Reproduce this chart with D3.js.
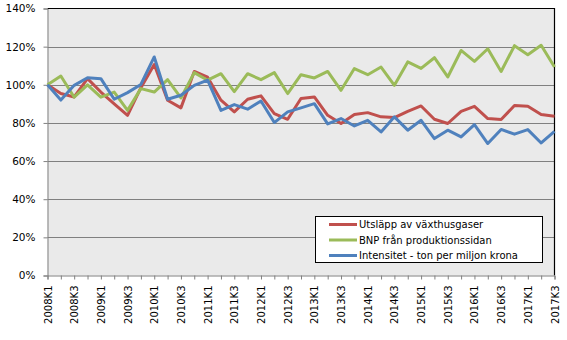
<!DOCTYPE html>
<html><head><meta charset="utf-8">
<script src="https://cdn.jsdelivr.net/npm/d3@7"></script>
<style>
body{margin:0;background:#fff;}
text{font-family:"DejaVu Sans",Verdana,sans-serif;font-size:10px;fill:#000;}
</style></head>
<body><svg id="c" width="567" height="340"></svg>
<script>
const years = [2008,2009,2010,2011,2012,2013,2014,2015,2016,2017];
const quarters = [];
years.forEach(y => { for (let q = 1; q <= 4; q++) { if (y === 2017 && q > 3) break; quarters.push(y + "K" + q); } });

const seriesNames = ["Utsläpp av växthusgaser", "BNP från produktionssidan", "Intensitet - ton per miljon krona"];
const utslapp = [100,95.4,93.6,103.2,96.2,90,84,98.5,110.6,91.9,87.9,107,104,91.9,85.8,92.4,94.2,84.9,81.9,92.8,93.6,84,79.7,84.4,85.4,83.2,82.8,86.1,88.9,81.9,79.7,86.1,88.7,82.3,81.8,89.1,88.7,84.4,83.5];
const bnp = [100,104.6,93.5,100,93.5,96.2,86.6,98,96.2,102.7,93.1,106.4,102.4,105.8,96.4,105.8,102.7,106.4,95.4,105.3,103.6,107,97.1,108.5,105.3,109.3,99.7,112,108.6,114.2,104.1,118,112.3,118.9,107,120.5,115.8,120.7,109.3];
const intensitet = [100,92,99.7,103.7,103.2,92.4,95.9,100.2,114.6,92.4,94.5,99.7,102.4,86.6,89.6,87.2,91.5,80.2,85.8,87.9,90.1,79.5,82.3,78.4,81.4,75.3,83.2,76.2,81.4,71.8,76.2,72.7,79.1,69.2,76.6,74.1,76.5,69.5,75.6];
const yTicks = [0,20,40,60,80,100,120,140];
const colors = ["#C0504D","#9BBB59","#4F81BD"];

const svg = d3.select("#c");
const L = 47.5, R = 554.5, T = 8.5, B = 275.5;
const x = d3.scalePoint().domain(quarters).range([L, R]);
const y = d3.scaleLinear().domain([0,140]).range([B, T]);

svg.append("rect").attr("x", L).attr("y", T).attr("width", R-L).attr("height", B-T).attr("fill", "#EAEAEA");

// gridlines
svg.append("g").selectAll("line").data(yTicks.filter(t => t > 0 && t < 140)).join("line")
  .attr("x1", L).attr("x2", R).attr("y1", d => Math.round(y(d)) + 0.5).attr("y2", d => Math.round(y(d)) + 0.5)
  .attr("stroke", "#808080").attr("stroke-width", 1);

// border top/right
svg.append("path").attr("d", `M${L},${T}H${R}V${B}`).attr("fill","none").attr("stroke","#000").attr("stroke-width",1.2);

// y axis
const yAxis = d3.axisLeft(y).tickValues(yTicks).tickSize(4).tickPadding(8).tickFormat(d => d + "%");
const gy = svg.append("g").attr("transform", `translate(${L},0)`).call(yAxis);
gy.select(".domain").attr("stroke", "#808080");
gy.selectAll(".tick line").attr("stroke", "#808080");
gy.selectAll("text").style("font-size","10.5px").attr("fill","#000");

// x axis
const xAxis = d3.axisBottom(x).tickSize(4).tickPadding(6).tickFormat((d,i) => i % 2 === 0 ? d : "");
const gx = svg.append("g").attr("transform", `translate(0,${B})`).call(xAxis);
gx.select(".domain").attr("stroke", "#808080");
gx.selectAll(".tick line").attr("stroke", "#808080");
gx.selectAll(".tick text").attr("transform", "rotate(-90)").attr("x", -10).attr("y", 0).attr("dy", "0.35em")
  .attr("text-anchor", "end").attr("fill","#000");

// lines
const data = [utslapp, bnp, intensitet];
const line = d3.line().x((d,i) => x(quarters[i])).y(d => y(d));
svg.append("g").selectAll("path").data(data).join("path")
  .attr("d", line).attr("fill", "none").attr("stroke", (d,i) => colors[i])
  .attr("stroke-width", 3).attr("stroke-linejoin", "round");

// legend
const lg = svg.append("g");
lg.append("rect").attr("x", 315.5).attr("y", 216.5).attr("width", 227).attr("height", 46)
  .attr("fill", "#fff").attr("stroke", "#000").attr("stroke-width", 1);
seriesNames.forEach((n, i) => {
  const yy = 224.5 + i * 15.5;
  lg.append("line").attr("x1", 329).attr("x2", 357).attr("y1", yy).attr("y2", yy)
    .attr("stroke", colors[i]).attr("stroke-width", 3);
  lg.append("text").attr("x", 359).attr("y", yy).attr("dy", "0.35em").text(n);
});
</script></body></html>
